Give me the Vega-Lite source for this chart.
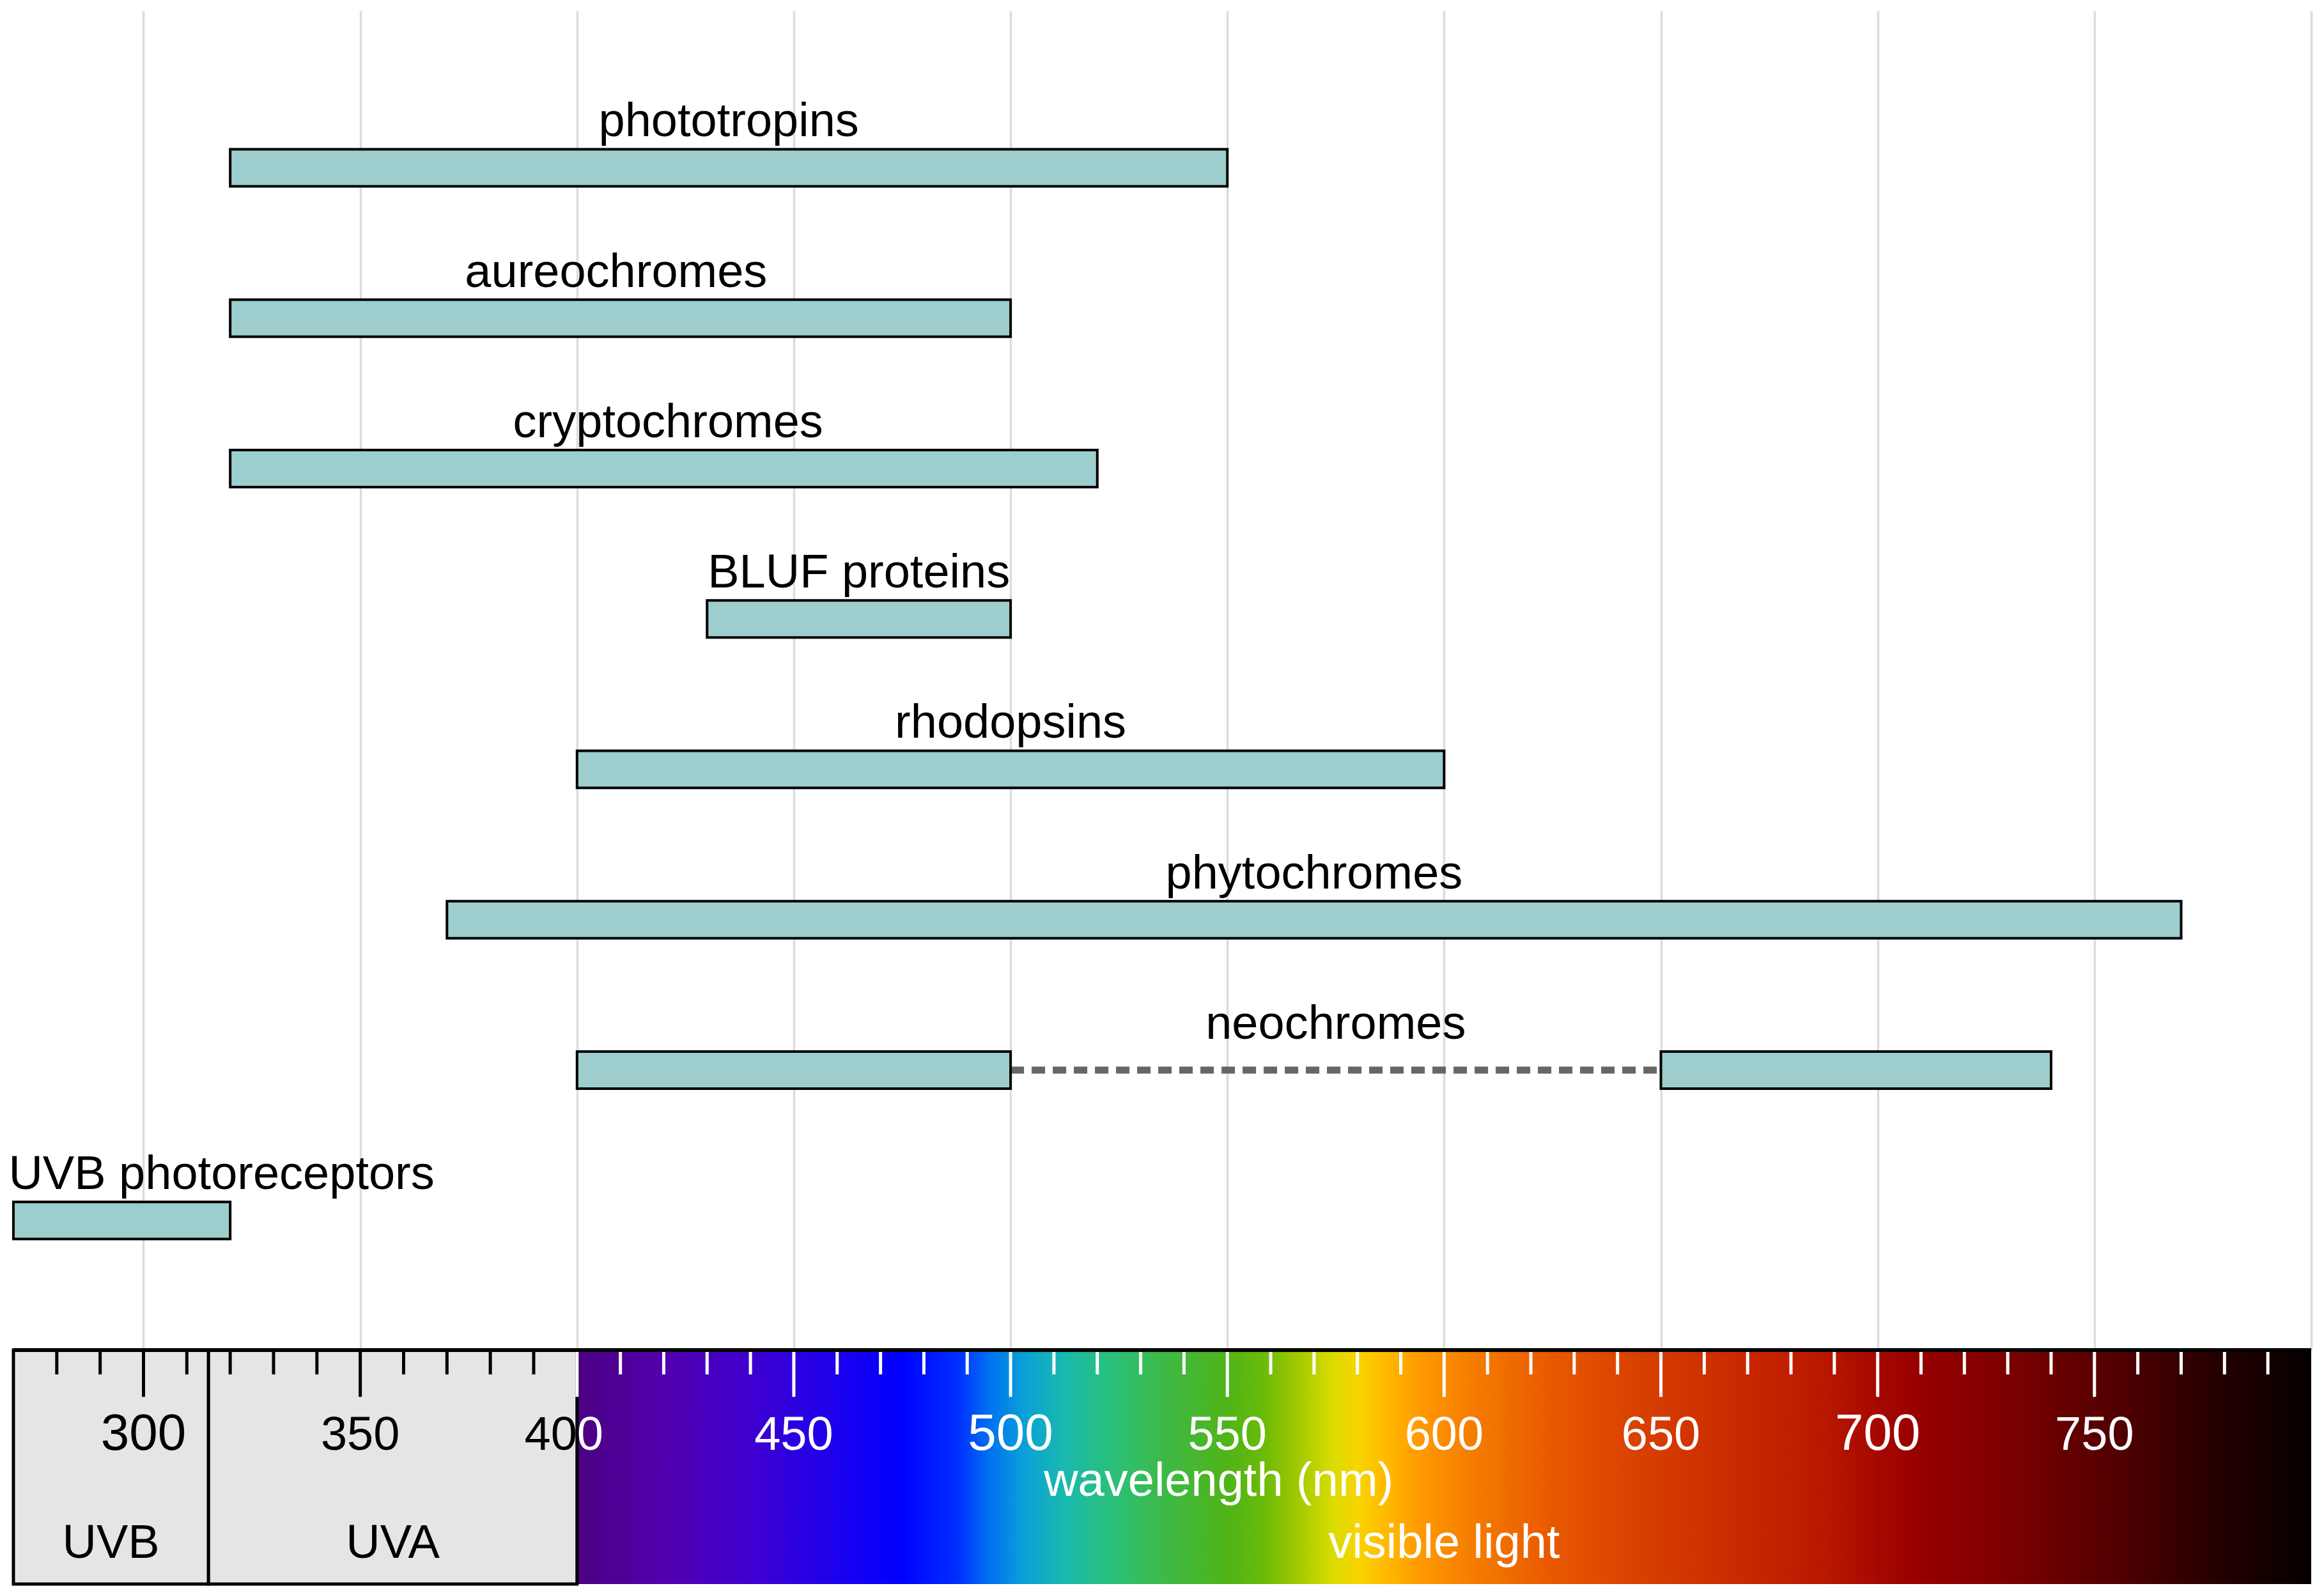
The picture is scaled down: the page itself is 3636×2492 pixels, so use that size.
{
  "$schema": "https://vega.github.io/schema/vega-lite/v6.json",
  "background": "white",
  "padding": {"left": 13, "top": 17, "right": 20, "bottom": 12},
  "spacing": 0,
  "bounds": "flush",
  "config": {"view": {"stroke": null}, "font": "Liberation Sans"},
  "datasets": {
    "segments": [
      {"name": "phototropins", "from": 320, "to": 550},
      {"name": "aureochromes", "from": 320, "to": 500},
      {"name": "cryptochromes", "from": 320, "to": 520},
      {"name": "BLUF proteins", "from": 430, "to": 500},
      {"name": "rhodopsins", "from": 400, "to": 600},
      {"name": "phytochromes", "from": 370, "to": 770},
      {"name": "neochromes", "from": 400, "to": 500},
      {"name": "neochromes", "from": 650, "to": 740},
      {"name": "UVB photoreceptors", "from": 270, "to": 320}
    ],
    "gaps": [
      {"name": "neochromes", "from": 500, "to": 650}
    ],
    "labels": [
      {"name": "phototropins", "label_x": 435},
      {"name": "aureochromes", "label_x": 409},
      {"name": "cryptochromes", "label_x": 421},
      {"name": "BLUF proteins", "label_x": 465},
      {"name": "rhodopsins", "label_x": 500},
      {"name": "phytochromes", "label_x": 570},
      {"name": "neochromes", "label_x": 575},
      {"name": "UVB photoreceptors", "label_x": 318}
    ],
    "uvbands": [
      {"band": "UVB", "from": 270, "to": 315},
      {"band": "UVA", "from": 315, "to": 400}
    ],
    "minor_ticks": [
      {"nm": 280, "region": "UV"}, {"nm": 290, "region": "UV"}, {"nm": 310, "region": "UV"},
      {"nm": 320, "region": "UV"}, {"nm": 330, "region": "UV"}, {"nm": 340, "region": "UV"},
      {"nm": 360, "region": "UV"}, {"nm": 370, "region": "UV"}, {"nm": 380, "region": "UV"},
      {"nm": 390, "region": "UV"},
      {"nm": 410, "region": "visible"}, {"nm": 420, "region": "visible"}, {"nm": 430, "region": "visible"},
      {"nm": 440, "region": "visible"}, {"nm": 460, "region": "visible"}, {"nm": 470, "region": "visible"},
      {"nm": 480, "region": "visible"}, {"nm": 490, "region": "visible"}, {"nm": 510, "region": "visible"},
      {"nm": 520, "region": "visible"}, {"nm": 530, "region": "visible"}, {"nm": 540, "region": "visible"},
      {"nm": 560, "region": "visible"}, {"nm": 570, "region": "visible"}, {"nm": 580, "region": "visible"},
      {"nm": 590, "region": "visible"}, {"nm": 610, "region": "visible"}, {"nm": 620, "region": "visible"},
      {"nm": 630, "region": "visible"}, {"nm": 640, "region": "visible"}, {"nm": 660, "region": "visible"},
      {"nm": 670, "region": "visible"}, {"nm": 680, "region": "visible"}, {"nm": 690, "region": "visible"},
      {"nm": 710, "region": "visible"}, {"nm": 720, "region": "visible"}, {"nm": 730, "region": "visible"},
      {"nm": 740, "region": "visible"}, {"nm": 760, "region": "visible"}, {"nm": 770, "region": "visible"},
      {"nm": 780, "region": "visible"}, {"nm": 790, "region": "visible"}
    ],
    "major_ticks": [
      {"nm": 300, "region": "UV"}, {"nm": 350, "region": "UV"},
      {"nm": 400, "region": "visible"}, {"nm": 450, "region": "visible"},
      {"nm": 500, "region": "visible"}, {"nm": 550, "region": "visible"},
      {"nm": 600, "region": "visible"}, {"nm": 650, "region": "visible"},
      {"nm": 700, "region": "visible"}, {"nm": 750, "region": "visible"}
    ],
    "tick_labels": [
      {"nm": 300, "label": "300", "region": "UV"},
      {"nm": 350, "label": "350", "region": "UV"},
      {"nm": 450, "label": "450", "region": "visible"},
      {"nm": 500, "label": "500", "region": "visible"},
      {"nm": 550, "label": "550", "region": "visible"},
      {"nm": 600, "label": "600", "region": "visible"},
      {"nm": 650, "label": "650", "region": "visible"},
      {"nm": 700, "label": "700", "region": "visible"},
      {"nm": 750, "label": "750", "region": "visible"}
    ],
    "region_labels": [
      {"text": "UVB", "mid": 292.5, "region": "UV"},
      {"text": "UVA", "mid": 357.5, "region": "UV"},
      {"text": "visible light", "mid": 600, "region": "visible"}
    ]
  },
  "vconcat": [
    {
      "width": 3595,
      "height": 2095,
      "layer": [
        {
          "data": {"name": "gaps"},
          "mark": {"type": "rule", "color": "#666666", "strokeWidth": 11, "strokeDash": [21, 12]},
          "encoding": {
            "x": {
              "field": "from", "type": "quantitative",
              "scale": {"domain": [270, 800], "nice": false, "zero": false},
              "axis": {
                "values": [300, 350, 400, 450, 500, 550, 600, 650, 700, 750, 800],
                "grid": true, "gridColor": "#dcdcdc", "gridWidth": 3.5,
                "labels": false, "ticks": false, "domain": false, "title": null
              }
            },
            "x2": {"field": "to"},
            "y": {
              "field": "name", "type": "nominal",
              "scale": {
                "domain": ["phototropins", "aureochromes", "cryptochromes", "BLUF proteins", "rhodopsins", "phytochromes", "neochromes", "UVB photoreceptors"],
                "paddingInner": 0, "paddingOuter": 0.453, "align": 0.6
              },
              "axis": null
            }
          }
        },
        {
          "data": {"name": "segments"},
          "mark": {"type": "bar", "size": 58, "fill": "#9dcdcd", "stroke": "#000000", "strokeWidth": 4, "cornerRadius": 0},
          "encoding": {
            "x": {"field": "from", "type": "quantitative"},
            "x2": {"field": "to"},
            "y": {"field": "name", "type": "nominal"}
          }
        },
        {
          "data": {"name": "labels"},
          "mark": {"type": "text", "fontSize": 74, "font": "Liberation Sans", "color": "#000000", "dy": -49, "baseline": "alphabetic", "align": "center"},
          "encoding": {
            "x": {"field": "label_x", "type": "quantitative"},
            "y": {"field": "name", "type": "nominal"},
            "text": {"field": "name"}
          }
        }
      ]
    },
    {
      "width": 3595,
      "height": 366,
      "layer": [
        {
          "data": {"values": [{"from": 400, "to": 800}]},
          "mark": {
            "type": "rect",
            "fill": {
              "gradient": "linear", "x1": 0, "y1": 0, "x2": 1, "y2": 0,
              "stops": [
                {"offset": 0, "color": "#4b0082"},
                {"offset": 0.05, "color": "#5200ae"},
                {"offset": 0.1, "color": "#3f00d0"},
                {"offset": 0.15, "color": "#1c00ee"},
                {"offset": 0.1875, "color": "#0000ff"},
                {"offset": 0.22, "color": "#0030ff"},
                {"offset": 0.2375, "color": "#0070f0"},
                {"offset": 0.2575, "color": "#0aa0d8"},
                {"offset": 0.28, "color": "#18b8b0"},
                {"offset": 0.305, "color": "#28c080"},
                {"offset": 0.3375, "color": "#3cba48"},
                {"offset": 0.375, "color": "#50b418"},
                {"offset": 0.395, "color": "#68ba08"},
                {"offset": 0.415, "color": "#a0c800"},
                {"offset": 0.435, "color": "#d8dc00"},
                {"offset": 0.45, "color": "#f8d400"},
                {"offset": 0.465, "color": "#ffbc00"},
                {"offset": 0.4875, "color": "#ff9800"},
                {"offset": 0.5125, "color": "#f68000"},
                {"offset": 0.5625, "color": "#e85800"},
                {"offset": 0.6125, "color": "#d84000"},
                {"offset": 0.6625, "color": "#cc2c00"},
                {"offset": 0.7125, "color": "#bc1a00"},
                {"offset": 0.75, "color": "#a60800"},
                {"offset": 0.775, "color": "#960000"},
                {"offset": 0.8125, "color": "#840000"},
                {"offset": 0.85, "color": "#6c0000"},
                {"offset": 0.9, "color": "#480000"},
                {"offset": 0.95, "color": "#220000"},
                {"offset": 1, "color": "#050000"}
              ]
            }
          },
          "encoding": {
            "x": {"field": "from", "type": "quantitative", "scale": {"domain": [270, 800], "nice": false, "zero": false}, "axis": null},
            "x2": {"field": "to"},
            "y": {"datum": 0, "type": "quantitative", "scale": {"domain": [0, 1], "reverse": true, "nice": false, "zero": false}, "axis": null},
            "y2": {"datum": 1}
          }
        },
        {
          "data": {"name": "uvbands"},
          "mark": {"type": "rect", "fill": "#e5e5e5", "stroke": "#000000", "strokeWidth": 5},
          "encoding": {
            "x": {"field": "from", "type": "quantitative"},
            "x2": {"field": "to"},
            "y": {"datum": 0, "type": "quantitative"},
            "y2": {"datum": 1}
          }
        },
        {
          "data": {"values": [{"from": 270, "to": 800}]},
          "mark": {"type": "rule", "color": "#000000", "strokeWidth": 6},
          "encoding": {
            "x": {"field": "from", "type": "quantitative"},
            "x2": {"field": "to"},
            "y": {"datum": 0, "type": "quantitative"}
          }
        },
        {
          "data": {"name": "minor_ticks"},
          "mark": {"type": "rule", "strokeWidth": 5},
          "encoding": {
            "x": {"field": "nm", "type": "quantitative"},
            "y": {"datum": 0.008, "type": "quantitative"},
            "y2": {"datum": 0.104},
            "color": {"field": "region", "type": "nominal", "scale": {"domain": ["UV", "visible"], "range": ["#000000", "#ffffff"]}, "legend": null}
          }
        },
        {
          "data": {"name": "major_ticks"},
          "mark": {"type": "rule", "strokeWidth": 5},
          "encoding": {
            "x": {"field": "nm", "type": "quantitative"},
            "y": {"datum": 0.008, "type": "quantitative"},
            "y2": {"datum": 0.2},
            "color": {"field": "region", "type": "nominal", "legend": null}
          }
        },
        {
          "data": {"name": "tick_labels"},
          "mark": {"type": "text", "font": "Liberation Sans", "baseline": "alphabetic", "align": "center"},
          "encoding": {
            "x": {"field": "nm", "type": "quantitative"},
            "y": {"datum": 0.426, "type": "quantitative"},
            "text": {"field": "label"},
            "size": {"condition": {"test": "datum.nm % 200 === 100", "value": 80}, "value": 74},
            "color": {"field": "region", "type": "nominal", "legend": null}
          }
        },
        {
          "data": {"values": [{"nm": 400, "label": "40"}]},
          "mark": {"type": "text", "font": "Liberation Sans", "fontSize": 74, "baseline": "alphabetic", "align": "right", "color": "#000000"},
          "encoding": {
            "x": {"field": "nm", "type": "quantitative"},
            "y": {"datum": 0.426, "type": "quantitative"},
            "text": {"field": "label"}
          }
        },
        {
          "data": {"values": [{"nm": 400, "label": "0"}]},
          "mark": {"type": "text", "font": "Liberation Sans", "fontSize": 74, "baseline": "alphabetic", "align": "left", "color": "#ffffff"},
          "encoding": {
            "x": {"field": "nm", "type": "quantitative"},
            "y": {"datum": 0.426, "type": "quantitative"},
            "text": {"field": "label"}
          }
        },
        {
          "data": {"name": "region_labels"},
          "mark": {"type": "text", "font": "Liberation Sans", "fontSize": 74, "baseline": "alphabetic", "align": "center"},
          "encoding": {
            "x": {"field": "mid", "type": "quantitative"},
            "y": {"datum": 0.888, "type": "quantitative"},
            "text": {"field": "text"},
            "color": {"field": "region", "type": "nominal", "legend": null}
          }
        },
        {
          "data": {"values": [{"nm": 548, "title": "wavelength (nm)"}]},
          "mark": {"type": "text", "font": "Liberation Sans", "fontSize": 74, "baseline": "alphabetic", "align": "center", "color": "#ffffff"},
          "encoding": {
            "x": {"field": "nm", "type": "quantitative"},
            "y": {"datum": 0.623, "type": "quantitative"},
            "text": {"field": "title"}
          }
        }
      ]
    }
  ]
}
